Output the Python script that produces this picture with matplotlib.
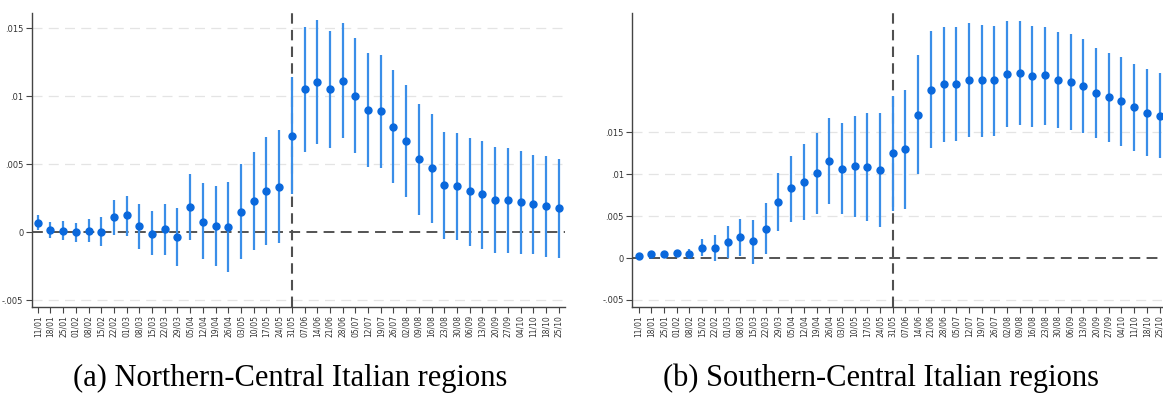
import matplotlib.pyplot as plt

dates = ['11/01', '18/01', '25/01', '01/02', '08/02', '15/02', '22/02', '01/03',
         '08/03', '15/03', '22/03', '29/03', '05/04', '12/04', '19/04', '26/04',
         '03/05', '10/05', '17/05', '24/05', '31/05', '07/06', '14/06', '21/06',
         '28/06', '05/07', '12/07', '19/07', '26/07', '02/08', '09/08', '16/08',
         '23/08', '30/08', '06/09', '13/09', '20/09', '27/09', '04/10', '11/10',
         '18/10', '25/10']

# Northern-Central regions: point estimates and 95% CI bounds
north_coef = [0.00071, 0.00017, 0.0001, 0.0, 0.0001, 0.00005, 0.00113, 0.00127,
              0.00047, -0.0001, 0.00022, -0.00034, 0.00184, 0.00078, 0.00044, 0.00039,
              0.0015, 0.0023, 0.003, 0.0033, 0.00708, 0.01051, 0.01105, 0.0105,
              0.01115, 0.01005, 0.009, 0.0089, 0.00775, 0.0067, 0.0054, 0.0047,
              0.00346, 0.0034, 0.003, 0.0028, 0.0024, 0.00235, 0.0022, 0.00206,
              0.0019, 0.0018]
north_hi = [0.00127, 0.00078, 0.0008, 0.0007, 0.001, 0.0011, 0.0024, 0.0027,
            0.0021, 0.0016, 0.0021, 0.0018, 0.0043, 0.0036, 0.0034, 0.0037,
            0.005, 0.0059, 0.007, 0.0075, 0.01145, 0.0151, 0.0156, 0.0148,
            0.0154, 0.0143, 0.0132, 0.013, 0.0119, 0.0108, 0.0094, 0.0087,
            0.0074, 0.0073, 0.0069, 0.0067, 0.0063, 0.0062, 0.006, 0.0057,
            0.0056, 0.0054]
north_lo = [0.00017, -0.00044, -0.0006, -0.0007, -0.0007, -0.001, -0.0002, -0.00027,
            -0.0012, -0.0017, -0.0017, -0.0025, -0.0006, -0.002, -0.0025, -0.0029,
            -0.002, -0.0013, -0.0009, -0.0008, 0.0028, 0.0059, 0.0065, 0.0062,
            0.0069, 0.0058, 0.0048, 0.0047, 0.0036, 0.0026, 0.0013, 0.0007,
            -0.0005, -0.0006, -0.001, -0.0012, -0.0015, -0.0015, -0.0016, -0.0016,
            -0.0018, -0.0019]

# Southern-Central regions
south_coef = [0.0003, 0.0005, 0.0005, 0.0006, 0.0005, 0.00124, 0.00124, 0.00195,
              0.00255, 0.002, 0.0035, 0.0067, 0.0083, 0.0091, 0.0101, 0.01163,
              0.0106, 0.011, 0.01088, 0.0105, 0.01251, 0.013, 0.0171, 0.0201,
              0.0208, 0.0208, 0.0213, 0.0212, 0.0212, 0.022, 0.0221, 0.0217,
              0.0218, 0.0212, 0.021, 0.0205, 0.0197, 0.0192, 0.0187, 0.018,
              0.0173, 0.017]
south_hi = [0.0005, 0.0007, 0.0007, 0.0009, 0.0011, 0.0023, 0.0027, 0.0038,
            0.0047, 0.0045, 0.0066, 0.0102, 0.0122, 0.0136, 0.0149, 0.0167,
            0.0161, 0.017, 0.0173, 0.0173, 0.0193, 0.0201, 0.0242, 0.0271,
            0.0276, 0.0276, 0.028, 0.0278, 0.0277, 0.0283, 0.0283, 0.0277,
            0.0276, 0.027, 0.0267, 0.0261, 0.0251, 0.0245, 0.024, 0.0231,
            0.0225, 0.0221]
south_lo = [0.0001, 0.0003, 0.0003, 0.0003, -0.0001, 0.0002, -0.0003, 0.0,
            0.0003, -0.0007, 0.0005, 0.0032, 0.0043, 0.0046, 0.0053, 0.0065,
            0.0052, 0.0049, 0.0044, 0.0037, 0.0056, 0.0058, 0.01, 0.0131,
            0.0139, 0.014, 0.0145, 0.0145, 0.0146, 0.0156, 0.0159, 0.0156,
            0.0159, 0.0155, 0.0153, 0.0149, 0.0143, 0.0138, 0.0134, 0.0128,
            0.0122, 0.0119]

yticks = [-0.005, 0, 0.005, 0.01, 0.015]
ytick_labels = ['-.005', '0', '.005', '.01', '.015']
captions = ['(a) Northern-Central Italian regions', '(b) Southern-Central Italian regions']
event_idx = dates.index('31/05')

fig = plt.figure(figsize=(11.63, 4.01), dpi=100)
ax1 = fig.add_axes([0.0273, 0.2352, 0.4585, 0.7316])
ax2 = fig.add_axes([0.5437, 0.2352, 0.4555, 0.7316])


def draw_panel(ax, coef, lo, hi, ylim, xlim):
    x = list(range(len(dates)))
    for y in yticks:
        if y != 0:
            ax.axhline(y, color='#e4e4e4', lw=0.9, ls=(0, (8, 5)), zorder=0)
    ax.axhline(0, color='#454545', lw=1.3, ls=(0, (6, 3.5)), zorder=1)
    ax.axvline(event_idx, color='#505050', lw=1.5, ls=(0, (5, 3)), zorder=1)
    ax.vlines(x, lo, hi, color='#3a8ee8', lw=1.6, zorder=2)
    ax.plot(x, coef, 'o', color='#0a68dc', ms=5, zorder=3)
    ax.set_xlim(*xlim)
    ax.set_ylim(*ylim)
    ax.set_yticks(yticks)
    ax.set_yticklabels(ytick_labels, fontsize=6, color='#333333')
    ax.set_xticks(x)
    ax.set_xticklabels(dates, rotation=90, fontsize=5.5, color='#333333')
    ax.tick_params(length=4, width=0.8, color='#444444', pad=2)
    for side in ['top', 'right']:
        ax.spines[side].set_visible(False)
    for side in ['left', 'bottom']:
        ax.spines[side].set_color('#444444')
        ax.spines[side].set_linewidth(1.0)


draw_panel(ax1, north_coef, north_lo, north_hi, (-0.00547, 0.0161), (-0.47, 41.5))
draw_panel(ax2, south_coef, south_lo, south_hi, (-0.0058, 0.0292), (-0.5, 41.2))

fig.text(0.2497, 0.057, captions[0], ha='center', va='center',
         family='Liberation Serif', fontsize=22)
fig.text(0.7575, 0.057, captions[1], ha='center', va='center',
         family='Liberation Serif', fontsize=22)

fig.savefig('out.png', dpi=100)
